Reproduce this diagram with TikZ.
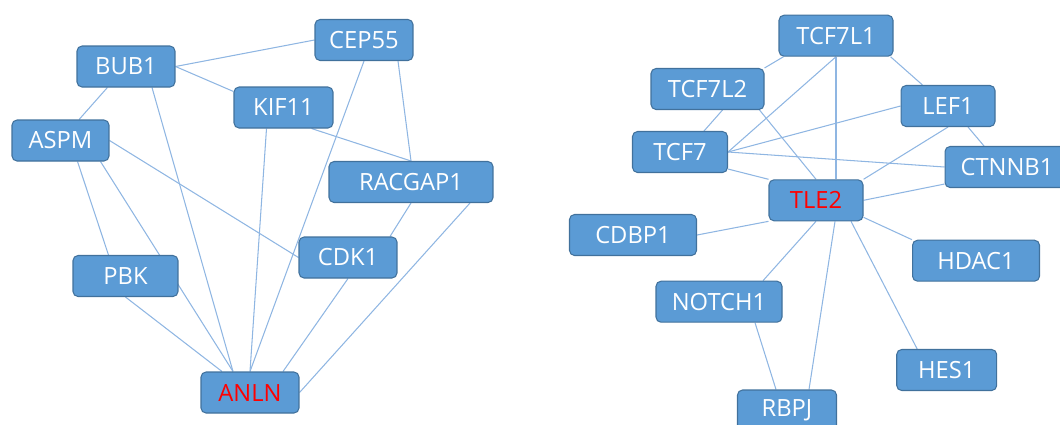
\documentclass[tikz,border=0pt]{standalone}
\usepackage{fontspec}
\setmainfont{Open Sans}
\usetikzlibrary{backgrounds}

\definecolor{boxblue}{RGB}{91,155,213}
\definecolor{boxedge}{RGB}{65,113,156}
\definecolor{linkblue}{RGB}{143,182,226}

\begin{document}
\begin{tikzpicture}[x=0.02cm, y=-0.02cm, line cap=round, line join=round,
  gene/.style={draw=boxedge, line width=0.6pt, fill=boxblue, rounded corners=0.1cm,
    minimum height=0.82cm, inner sep=0pt, text=white, font=\fontsize{13.5}{15}\selectfont},
  hub/.style={gene, text=red},
  link/.style={draw=linkblue, line width=0.6pt}]

\useasboundingbox (0,0) rectangle (1060,424);
\clip (0,0) rectangle (1060,424);

% left network
\node[gene, minimum width=1.96cm] (bub1) at (126,66.5) {BUB1};
\node[gene, minimum width=1.96cm] (cep55) at (364,40) {CEP55};
\node[gene, minimum width=1.98cm] (kif11) at (283.5,107.5) {KIF11};
\node[gene, minimum width=1.94cm] (aspm) at (60.5,140.5) {ASPM};
\node[gene, minimum width=3.28cm] (racgap1) at (411,182) {RACGAP1};
\node[gene, minimum width=1.96cm] (cdk1) at (348,257.5) {CDK1};
\node[gene, minimum width=2.10cm] (pbk) at (125.5,276) {PBK};
\node[hub, minimum width=1.96cm] (anln) at (250,392.5) {ANLN};

% right network
\node[gene, minimum width=2.28cm] (tcf7l1) at (836,35.7) {TCF7L1};
\node[gene, minimum width=2.26cm] (tcf7l2) at (707.5,89) {TCF7L2};
\node[gene, minimum width=1.88cm] (lef1) at (948,106) {LEF1};
\node[gene, minimum width=1.90cm] (tcf7) at (680,152) {TCF7};
\node[gene, minimum width=2.48cm] (ctnnb1) at (1007,167) {CTNNB1};
\node[hub, minimum width=1.88cm] (tle2) at (816,200.3) {TLE2};
\node[gene, minimum width=2.54cm] (cdbp1) at (633,235) {CDBP1};
\node[gene, minimum width=2.54cm] (hdac1) at (976,260.7) {HDAC1};
\node[gene, minimum width=2.52cm] (notch1) at (719,301.7) {NOTCH1};
\node[gene, minimum width=2.00cm] (hes1) at (946.7,370) {HES1};
\node[gene, minimum width=1.98cm] (rbpj) at (787,410.5) {RBPJ};

\begin{scope}[on background layer]
% left links
\draw[link] (bub1.east) -- (cep55.west);
\draw[link] (bub1.east) -- ([shift={(0,5)}]kif11.north west);
\draw[link] (bub1) -- (aspm);
\draw[link] ([shift={(26,0)}]bub1.south) -- ([shift={(-17,0)}]anln.north);
\draw[link] (cep55.south) -- (anln.north);
\draw[link] ([shift={(34,0)}]cep55.south) -- (racgap1.north);
\draw[link] ([shift={(28,0)}]kif11.south) -- (racgap1.north);
\draw[link] ([shift={(-17,0)}]kif11.south) -- (anln.north);
\draw[link] ([shift={(17,0)}]aspm.south) -- ([shift={(-17,0)}]pbk.north);
\draw[link] ([shift={(40,0)}]aspm.south) -- ([shift={(-17,0)}]anln.north);
\draw[link] (aspm.east) -- (cdk1.west);
\draw[link] (pbk.south) -- ([shift={(-28,0)}]anln.north);
\draw[link] (racgap1.south) -- ([shift={(42,0)}]cdk1.north);
\draw[link] ([shift={(59,0)}]racgap1.south) -- (anln.east);
\draw[link] (cdk1.south) -- ([shift={(33,0)}]anln.north);

% right links
\draw[link] ([shift={(5,0)}]tcf7l1.south west) -- (tcf7l2.north east);
\draw[link] (tcf7l1.south) -- (tcf7.east);
\draw[link] (tcf7l1.south) -- (tcf7l1.south |- tle2.north);
\draw[link] ([shift={(-3,0)}]tcf7l1.south east) -- ([shift={(22,0)}]lef1.north west);
\draw[link] ([shift={(15,0)}]tcf7l2.south) -- ([shift={(24,0)}]tcf7.north);
\draw[link] ([shift={(-5,0)}]tcf7l2.south east) -- (tle2.north);
\draw[link] (tcf7.east) -- (lef1.west);
\draw[link] (tcf7.east) -- (ctnnb1.west);
\draw[link] ([shift={(0,-4)}]tcf7.south east) -- (tle2.north west);
\draw[link] (lef1.south) -- (tle2.north east);
\draw[link] ([shift={(20,0)}]lef1.south) -- ([shift={(-23,0)}]ctnnb1.north);
\draw[link] ([shift={(0,-4)}]ctnnb1.south west) -- (tle2.east);
\draw[link] (cdbp1.east) -- (tle2.south west);
\draw[link] ([shift={(0,-4)}]tle2.south east) -- (hdac1.north west);
\draw[link] (tle2.south) -- ([shift={(44,0)}]notch1.north);
\draw[link] ([shift={(19,0)}]tle2.south) -- ([shift={(22,0)}]rbpj.north);
\draw[link] ([shift={(35,0)}]tle2.south) -- ([shift={(21,0)}]hes1.north west);
\draw[link] ([shift={(36,0)}]notch1.south) -- ([shift={(-11,0)}]rbpj.north);
\end{scope}
\end{tikzpicture}
\end{document}
